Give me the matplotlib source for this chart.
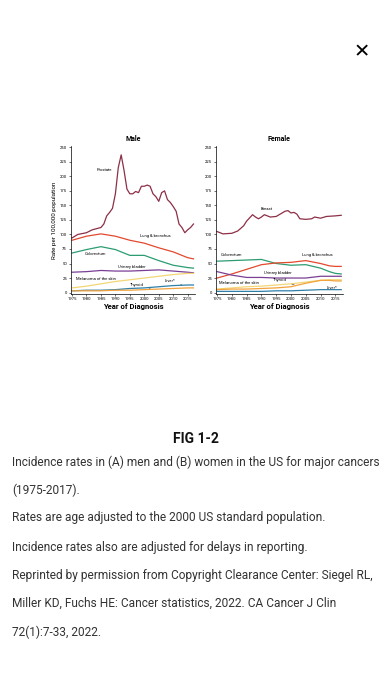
import numpy as np
import matplotlib.pyplot as plt

plt.rcParams['font.family'] = ['Roboto', 'DejaVu Sans']

# ---- data (rates per 100,000) ----
yr_key = [1975, 1977, 1980, 1982, 1985, 1986, 1987, 1988, 1989, 1990, 1991, 1992,
          1993, 1994, 1995, 1996, 1997, 1998, 1999, 2000, 2001, 2002, 2003, 2004,
          2005, 2006, 2007, 2008, 2009, 2010, 2011, 2012, 2013, 2014, 2015, 2016, 2017]
prostate = [94, 100, 103, 108, 112, 118, 132, 138, 145, 170, 215, 237,
            210, 178, 170, 170, 174, 172, 183, 183, 185, 183, 170, 165,
            157, 172, 175, 160, 155, 148, 140, 118, 112, 103, 108, 112, 118]

years = [1975, 1980, 1985, 1990, 1995, 2000, 2005, 2010, 2015, 2017]
m_lung = [90, 97, 101, 97, 90, 85, 77, 70, 60, 58]
m_colo = [68, 74, 79, 74, 64, 64, 55, 47, 43, 42]
m_blad = [35, 36, 38, 37, 37, 38, 39, 37, 35, 34]
m_mela = [8, 11, 15, 19, 22, 25, 28, 31, 33, 33]
m_liver = [3, 4, 4, 5, 7, 8, 10, 12, 13, 13]
m_thyr = [3, 3, 3, 4, 4, 5, 6, 7, 8, 8]

f_yr_key = [1975, 1977, 1980, 1982, 1984, 1985, 1987, 1988, 1989, 1990, 1991, 1993,
            1995, 1997, 1998, 1999, 2000, 2001, 2002, 2003, 2005, 2007, 2008, 2010,
            2012, 2015, 2017]
breast = [105, 101, 102, 106, 115, 123, 134, 130, 127, 130, 134, 130,
          131, 137, 140, 141, 137, 138, 135, 127, 126, 127, 130, 128,
          131, 132, 133]
f_colo = [54, 55, 56, 57, 50, 47, 48, 42, 36, 33, 32]
f_lung = [25, 32, 40, 48, 51, 52, 55, 50, 46, 45, 45]
f_blad = [36, 30, 26, 26, 25, 25, 25, 28, 28, 28, 28]
f_mela = [6, 8, 10, 11, 13, 15, 18, 21, 22, 22, 22]
f_thyr = [5, 6, 6, 7, 8, 10, 16, 21, 21, 20, 20]
f_liver = [2, 2, 2, 2, 3, 3, 4, 5, 5, 5, 5]
f_years = [1975, 1980, 1985, 1987, 1990, 1995, 2000, 2005, 2010, 2012, 2017]
f_years = [1975, 1980, 1985, 1990, 1995, 2000, 2005, 2010, 2013, 2015, 2017]

ticks_x = [1975, 1980, 1985, 1990, 1995, 2000, 2005, 2010, 2015]
ticks_y = list(range(0, 251, 25))

c_pros = '#8c2f47'
c_lung = '#e2492e'
c_colo = '#2c9c72'
c_blad = '#7a3f95'
c_mela = '#f3d676'
c_liver = '#2f7fa8'
c_thyr = '#f2a23c'

fig = plt.figure(figsize=(3.92, 6.96), dpi=100)

def style(ax, title):
    ax.set_xlim(1974.5, 2017.6)
    ax.set_ylim(-2, 252)
    ax.set_xticks(ticks_x)
    ax.set_yticks(ticks_y)
    ax.tick_params(labelsize=3, length=1.5, width=0.4, pad=1)
    for s in ['top', 'right']:
        ax.spines[s].set_visible(False)
    for s in ['left', 'bottom']:
        ax.spines[s].set_linewidth(0.5)
    ax.set_title(title, fontsize=5, fontweight='bold', pad=4)
    ax.set_xlabel('Year of Diagnosis', fontsize=5.5, fontweight='bold', labelpad=1.5)

lw = 0.9
fs = 3

ax1 = fig.add_axes([0.180, 0.578, 0.318, 0.212])
ax1.plot(yr_key, prostate, color=c_pros, lw=lw)
ax1.plot(years, m_lung, color=c_lung, lw=lw)
ax1.plot(years, m_colo, color=c_colo, lw=lw)
ax1.plot(years, m_blad, color=c_blad, lw=lw)
ax1.plot(years, m_mela, color=c_mela, lw=lw)
ax1.plot(years, m_liver, color=c_liver, lw=lw)
ax1.plot(years, m_thyr, color=c_thyr, lw=lw)
style(ax1, 'Male')
ax1.set_ylabel('Rate per 100,000 population', fontsize=4.5, labelpad=2)
ax1.text(1983.6, 211, 'Prostate', fontsize=fs, va='center')
ax1.text(1998.6, 98, 'Lung & bronchus', fontsize=fs, va='center')
ax1.text(1979.5, 66, 'Colorectum', fontsize=fs, va='center')
ax1.text(1991, 44.5, 'Urinary bladder', fontsize=fs, va='center')
ax1.text(1976.4, 23, 'Melanoma of the skin', fontsize=fs, va='center')
ax1.annotate('Thyroid', xy=(2003, 6), xytext=(1995, 13), fontsize=fs, va='center',
             arrowprops=dict(arrowstyle='-', lw=0.4, color='#333333'))
ax1.annotate('Liver*', xy=(2013, 13), xytext=(2007, 20), fontsize=fs, va='center',
             arrowprops=dict(arrowstyle='-', lw=0.4, color='#333333'))

ax2 = fig.add_axes([0.550, 0.578, 0.325, 0.212])
ax2.plot(f_yr_key, breast, color=c_pros, lw=lw)
ax2.plot(f_years, f_colo, color=c_colo, lw=lw)
ax2.plot(f_years, f_lung, color=c_lung, lw=lw)
ax2.plot(f_years, f_blad, color=c_blad, lw=lw)
ax2.plot(f_years, f_mela, color=c_mela, lw=lw)
ax2.plot(f_years, f_thyr, color=c_thyr, lw=lw)
ax2.plot(f_years, f_liver, color=c_liver, lw=lw)
style(ax2, 'Female')
ax2.text(1989.8, 143, 'Breast', fontsize=fs, va='center')
ax2.text(1976.4, 64, 'Colorectum', fontsize=fs, va='center')
ax2.text(2003.8, 64, 'Lung & bronchus', fontsize=fs, va='center')
ax2.text(1990.8, 33, 'Urinary bladder', fontsize=fs, va='center')
ax2.annotate('Thyroid', xy=(2002, 12), xytext=(1993.8, 21), fontsize=fs, va='center',
             arrowprops=dict(arrowstyle='-', lw=0.4, color='#333333'))
ax2.text(1975.8, 16, 'Melanoma of the skin', fontsize=fs, va='center')
ax2.text(2012, 8.6, 'Liver*', fontsize=fs, va='center')

# close button
fig.text(362 / 392, 1 - 52 / 696, '\u2715', fontsize=14, fontweight='bold',
         ha='center', va='center', family=['DejaVu Sans'])

fig.text(0.5, 1 - 439 / 696, 'FIG 1-2', fontsize=10, fontweight='bold',
         ha='center', va='center', color='#111111')

lines = [
    'Incidence rates in (A) men and (B) women in the US for major cancers',
    '(1975-2017).',
    'Rates are age adjusted to the 2000 US standard population.',
    'Incidence rates also are adjusted for delays in reporting.',
    'Reprinted by permission from Copyright Clearance Center: Siegel RL,',
    'Miller KD, Fuchs HE: Cancer statistics, 2022. CA Cancer J Clin',
    '72(1):7-33, 2022.',
]
ys = [462, 490, 518, 547, 575, 603, 632]
for t, y in zip(lines, ys):
    fig.text(12 / 392, 1 - y / 696, t, fontsize=8.6, ha='left', va='center',
             color='#333333')

fig.savefig('out.png', dpi=100, facecolor='white')
